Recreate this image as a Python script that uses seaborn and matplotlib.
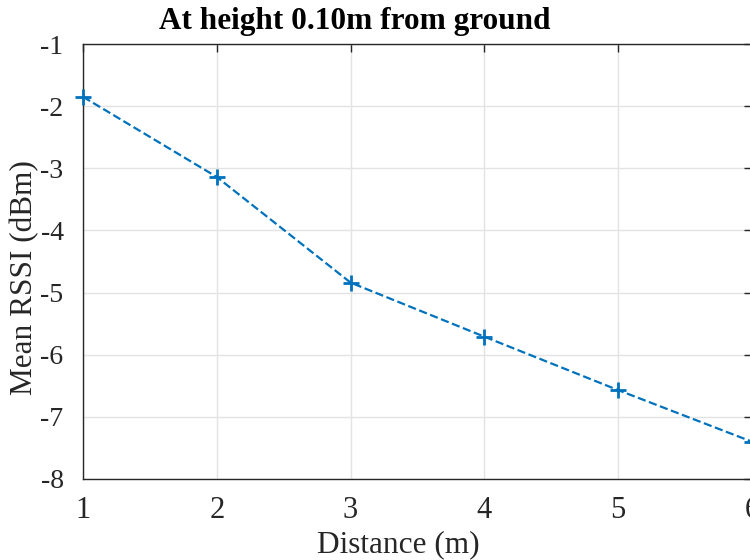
import pandas as pd
import numpy as np
import matplotlib
matplotlib.use('Agg')
import matplotlib.pyplot as plt
import seaborn as sns

# data
distance = [1, 2, 3, 4, 5, 6]
mean_rssi = [-1.85, -3.14, -4.84, -5.71, -6.57, -7.40]
x_ticks = [1, 2, 3, 4, 5, 6]
y_ticks = [-8, -7, -6, -5, -4, -3, -2, -1]

sns.set_style('white')
plt.rcParams['font.family'] = ['Liberation Serif', 'DejaVu Serif']

df = pd.DataFrame({'distance': distance, 'rssi': mean_rssi})

fig = plt.figure(figsize=(7.5, 5.6), dpi=100)
ax = fig.add_axes([83/750, 81/560, 669/750, 435/560])

sns.lineplot(data=df, x='distance', y='rssi', ax=ax, color='#0072BD',
             linestyle='--', linewidth=1.6, marker='+', markersize=12,
             markeredgewidth=2.0, markeredgecolor='#0072BD',
             markerfacecolor='#0072BD', clip_on=False, zorder=3)

ax.set_xlim(1, 6)
ax.set_ylim(-8, -1)
ax.set_xticks(x_ticks)
ax.set_yticks(y_ticks)
ax.set_xticklabels([str(v) for v in x_ticks])
ax.set_yticklabels([str(v) for v in y_ticks])
ax.grid(True, color='#e3e3e3', linewidth=1.0)
ax.set_axisbelow(True)
for s in ax.spines.values():
    s.set_visible(True)
    s.set_color('#262626')
    s.set_linewidth(1.0)
ax.tick_params(direction='in', length=6, width=1.0, top=True, right=True,
               colors='#262626')
ax.tick_params(axis='x', pad=12, labelsize=22)
ax.tick_params(axis='y', pad=14, labelsize=20)

ax.set_xlabel('Distance (m)', fontsize=22.5, color='#262626', va='center')
ax.xaxis.set_label_coords((398 - 83) / 669, -(545 - 479) / 435)
ax.set_ylabel('Mean RSSI (dBm)', fontsize=22.5, color='#262626', va='center')
ax.yaxis.set_label_coords((25 - 83) / 669, (479 - 278) / 435)

fig.text(355/750, 1 - 22/560, 'At height 0.10m from ground', fontsize=22.5,
         fontweight='bold', ha='center', va='center', color='black')

fig.savefig('out.png', dpi=100)
